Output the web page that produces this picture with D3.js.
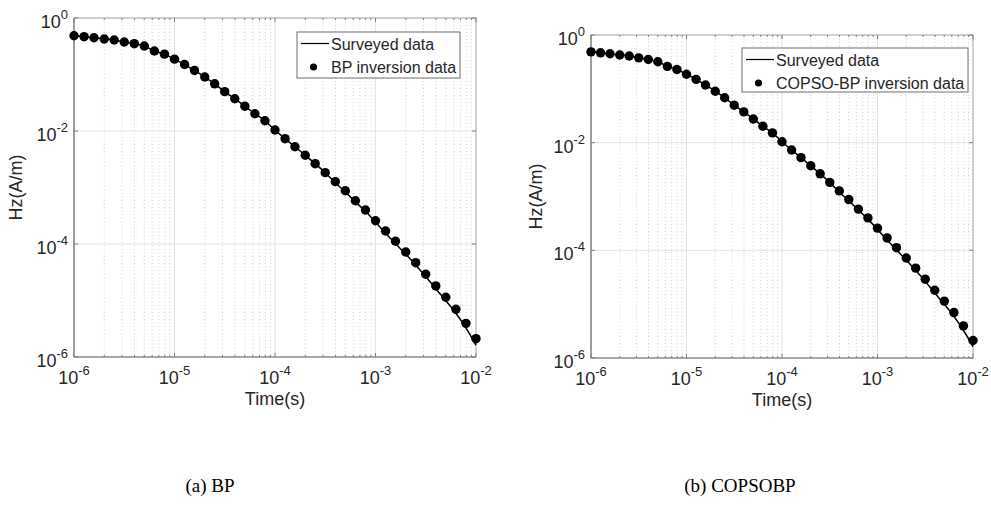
<!DOCTYPE html>
<html>
<head>
<meta charset="utf-8">
<script src="https://cdn.jsdelivr.net/npm/d3@7"></script>
<style>
  body { margin: 0; background: #fff; }
  svg { display: block; }
  text { font-family: "Liberation Sans", Arial, sans-serif; fill: #262626; }
  text.caption { font-family: "Liberation Serif", "Times New Roman", serif; fill: #000; }
</style>
</head>
<body>
<script>
// sample times (s)
const times = [
  1.00e-6, 1.26e-6, 1.58e-6, 2.00e-6, 2.51e-6, 3.16e-6, 3.98e-6, 5.01e-6, 6.31e-6, 7.94e-6,
  1.00e-5, 1.26e-5, 1.58e-5, 2.00e-5, 2.51e-5, 3.16e-5, 3.98e-5, 5.01e-5, 6.31e-5, 7.94e-5,
  1.00e-4, 1.26e-4, 1.58e-4, 2.00e-4, 2.51e-4, 3.16e-4, 3.98e-4, 5.01e-4, 6.31e-4, 7.94e-4,
  1.00e-3, 1.26e-3, 1.58e-3, 2.00e-3, 2.51e-3, 3.16e-3, 3.98e-3, 5.01e-3, 6.31e-3, 7.94e-3,
  1.00e-2
];

// measured Hz (A/m)
const surveyed = [
  0.486, 0.467, 0.448, 0.425, 0.408, 0.376, 0.351, 0.319, 0.262, 0.229,
  0.187, 0.150, 0.118, 0.0903, 0.0684, 0.0497, 0.0373, 0.0275, 0.0202, 0.0152,
  0.0104, 7.31e-3, 5.27e-3, 3.72e-3, 2.64e-3, 1.83e-3, 1.21e-3, 8.37e-4, 5.57e-4, 3.80e-4,
  2.45e-4, 1.55e-4, 1.02e-4, 6.58e-5, 4.26e-5, 2.65e-5, 1.61e-5, 9.91e-6, 5.94e-6, 3.28e-6,
  1.62e-6
];

// BP inversion result
const bpData = [
  0.486, 0.467, 0.448, 0.425, 0.408, 0.376, 0.351, 0.319, 0.261, 0.229,
  0.187, 0.150, 0.118, 0.0903, 0.0684, 0.0497, 0.0373, 0.0275, 0.0202, 0.0152,
  0.0104, 7.31e-3, 5.27e-3, 3.72e-3, 2.64e-3, 1.83e-3, 1.27e-3, 8.77e-4, 5.83e-4, 4.00e-4,
  2.58e-4, 1.70e-4, 1.12e-4, 7.21e-5, 4.67e-5, 2.91e-5, 1.81e-5, 1.14e-5, 6.98e-6, 3.94e-6,
  2.11e-6
];

// COPSO-BP inversion result
const copsoData = [
  0.486, 0.467, 0.448, 0.425, 0.408, 0.376, 0.351, 0.319, 0.261, 0.229,
  0.187, 0.150, 0.118, 0.0903, 0.0684, 0.0497, 0.0373, 0.0275, 0.0202, 0.0152,
  0.0104, 7.31e-3, 5.27e-3, 3.72e-3, 2.64e-3, 1.83e-3, 1.27e-3, 8.77e-4, 5.83e-4, 4.00e-4,
  2.58e-4, 1.70e-4, 1.12e-4, 7.21e-5, 4.67e-5, 2.91e-5, 1.81e-5, 1.14e-5, 6.98e-6, 3.94e-6,
  2.11e-6
];

const xTicks = [1e-6, 1e-5, 1e-4, 1e-3, 1e-2];
const yTicks = [1e0, 1e-2, 1e-4, 1e-6];

const panels = [
  {x: 74, y: 18, w: 402, h: 339, dots: bpData, name: "BP inversion data",
   caption: "(a) BP", capX: 210, legend: {x: 297, y: 32, w: 163, h: 46}, ylabX: 22},
  {x: 591, y: 35, w: 382, h: 323, dots: copsoData, name: "COPSO-BP inversion data",
   caption: "(b) COPSOBP", capX: 740, legend: {x: 742, y: 48, w: 226, h: 44}, ylabX: 542}
];

const svg = d3.select("body").append("svg")
  .attr("width", 991)
  .attr("height", 507);

// "10" with the exponent as a raised smaller number
function expLabel(sel) {
  sel.each(function(d) {
    let t = d3.select(this).text("");
    t.append("tspan").attr("font-size", 18).text("10");
    t.append("tspan").attr("font-size", 13).attr("dy", -9).text(Math.round(Math.log10(d)));
  });
}

panels.forEach(p => {
  let g = svg.append("g").attr("transform", `translate(${p.x},${p.y})`);

  let x = d3.scaleLog().domain([1e-6, 1e-2]).range([0, p.w]);
  let y = d3.scaleLog().domain([1e-6, 1]).range([p.h, 0]);

  // minor x values
  let minor = [];
  for (let e = -6; e < -2; e++) {
    for (let m = 2; m <= 9; m++) minor.push(m * Math.pow(10, e));
  }

  // grid
  g.append("g").selectAll("line").data(minor).join("line")
    .attr("x1", d => x(d)).attr("x2", d => x(d))
    .attr("y1", 0).attr("y2", p.h)
    .attr("stroke", "#cfcfcf").attr("stroke-width", 1)
    .attr("stroke-dasharray", "1,2.5");
  g.append("g").selectAll("line").data(xTicks.slice(1, -1)).join("line")
    .attr("x1", d => x(d)).attr("x2", d => x(d))
    .attr("y1", 0).attr("y2", p.h)
    .attr("stroke", "#e3e3e3").attr("stroke-width", 1);
  g.append("g").selectAll("line").data(yTicks.slice(1, -1)).join("line")
    .attr("x1", 0).attr("x2", p.w)
    .attr("y1", d => y(d)).attr("y2", d => y(d))
    .attr("stroke", "#e3e3e3").attr("stroke-width", 1);

  // box
  g.append("rect").attr("width", p.w).attr("height", p.h)
    .attr("fill", "none").attr("stroke", "#a0a0a0").attr("stroke-width", 1);

  // ticks on all four sides
  const tk = (sel, vals, len, side) => sel.selectAll("line").data(vals).join("line")
    .attr("x1", d => side == "x" ? x(d) : 0).attr("x2", d => side == "x" ? x(d) : len)
    .attr("y1", d => side == "x" ? 0 : y(d)).attr("y2", d => side == "x" ? len : y(d))
    .attr("stroke", "#808080");
  tk(g.append("g").attr("transform", `translate(0,${p.h})`), xTicks, -4, "x");
  tk(g.append("g").attr("transform", `translate(0,${p.h})`), minor, -2, "x");
  tk(g.append("g"), xTicks, 4, "x");
  tk(g.append("g"), minor, 2, "x");
  tk(g.append("g"), yTicks, 4, "y");
  tk(g.append("g").attr("transform", `translate(${p.w},0)`), yTicks, -4, "y");

  // left and bottom axis lines (darker)
  g.append("line").attr("x1", 0).attr("x2", 0).attr("y1", 0).attr("y2", p.h)
    .attr("stroke", "#8c8c8c").attr("stroke-width", 1.5);
  g.append("line").attr("x1", 0).attr("x2", p.w).attr("y1", p.h).attr("y2", p.h)
    .attr("stroke", "#808080").attr("stroke-width", 1.2);

  // tick labels
  g.append("g").selectAll("text").data(xTicks).join("text")
    .attr("text-anchor", "middle")
    .attr("x", d => x(d)).attr("y", p.h + 27)
    .call(expLabel);
  g.append("g").selectAll("text").data(yTicks).join("text")
    .attr("y", d => y(d) + 10)
    .call(expLabel)
    .attr("x", function() { return -6 - this.getComputedTextLength(); });

  // axis titles
  svg.append("text").attr("x", p.x + p.w / 2).attr("y", p.y + p.h + 48)
    .attr("text-anchor", "middle").attr("font-size", 18).text("Time(s)");
  svg.append("text").attr("transform", `translate(${p.ylabX},${p.y + p.h / 2}) rotate(-90)`)
    .attr("text-anchor", "middle").attr("font-size", 18).text("Hz(A/m)");

  // surveyed curve
  let line = d3.line().x((d, i) => x(times[i])).y(d => y(d)).curve(d3.curveMonotoneX);
  g.append("path").datum(surveyed).attr("d", line)
    .attr("fill", "none").attr("stroke", "#000").attr("stroke-width", 1.5);

  // inversion dots
  g.append("g").selectAll("circle").data(p.dots).join("circle")
    .attr("cx", (d, i) => x(times[i])).attr("cy", d => y(d)).attr("r", 4.7)
    .attr("fill", "#000");

  // legend
  let lg = svg.append("g").attr("transform", `translate(${p.legend.x},${p.legend.y})`);
  lg.append("rect").attr("width", p.legend.w).attr("height", p.legend.h)
    .attr("fill", "#fff").attr("stroke", "#6e6e6e").attr("stroke-width", 1);
  lg.append("line").attr("x1", 4).attr("x2", 32).attr("y1", 11.5).attr("y2", 11.5)
    .attr("stroke", "#000").attr("stroke-width", 1.2);
  lg.append("text").attr("x", 34).attr("y", 17.5).attr("font-size", 16).text("Surveyed data");
  lg.append("circle").attr("cx", 16.5).attr("cy", 35).attr("r", 3.6).attr("fill", "#000");
  lg.append("text").attr("x", 34).attr("y", 41).attr("font-size", 16).text(p.name);

  // caption
  svg.append("text").attr("class", "caption")
    .attr("x", p.capX).attr("y", 492).attr("text-anchor", "middle")
    .attr("font-size", 19).text(p.caption);
});
</script>
</body>
</html>
